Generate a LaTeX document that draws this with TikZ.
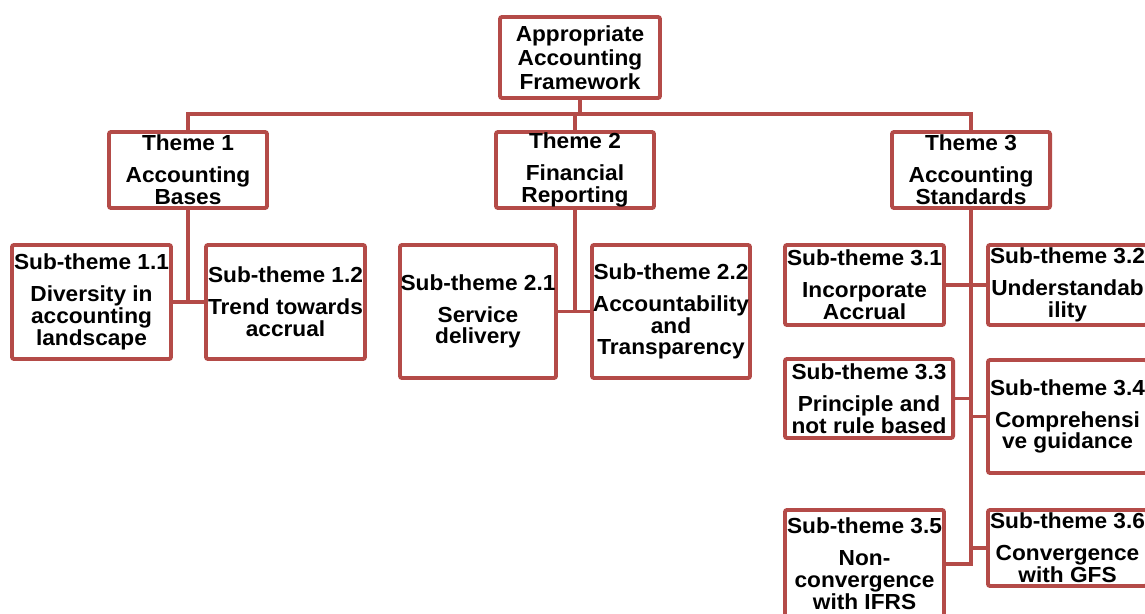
\documentclass[tikz,border=0pt]{standalone}
\usepackage{fontspec}
\setmainfont{Liberation Sans}[FakeStretch=1.04]
\definecolor{boxred}{RGB}{180,75,72}
\tikzset{
  box/.style={draw=boxred, line width=2.8pt, rounded corners=1.5pt, fill=white,
    align=center, inner sep=0pt, font=\bfseries\fontsize{15.5}{15.6}\selectfont},
  rootbox/.style={box, minimum width=4cm, minimum height=2.025cm,
    font=\bfseries\fontsize{15.5}{17}\selectfont},
  themebox/.style={box, minimum width=3.95cm, minimum height=1.9cm},
  subbox/.style={box, minimum width=3.975cm},
  link/.style={draw=boxred, line width=2.8pt, line cap=rect},
}
\begin{document}
\begin{tikzpicture}[x=0.025cm, y=-0.025cm]
  \useasboundingbox (0,0) rectangle (1145,613);
  \clip (0,0) rectangle (1145,613);

  % top
  \node[rootbox] (root) at (580,57.5) {Appropriate\\Accounting\\Framework};
  \coordinate (bus) at (0,114);

  % themes
  \node[themebox] (t1) at (188,170) {Theme 1\\[7pt]Accounting\\Bases};
  \node[themebox] (t2) at (575,170) {Theme 2\\[7pt]Financial\\Reporting};
  \node[themebox] (t3) at (971,170) {Theme 3\\[7pt]Accounting\\Standards};

  % sub-themes 1
  \node[subbox, minimum height=2.85cm] (s11) at (91.5,302) {Sub-theme 1.1\\[7pt]Diversity in\\accounting\\landscape};
  \node[subbox, minimum height=2.85cm] (s12) at (285.5,302) {Sub-theme 1.2\\[7pt]Trend towards\\accrual};

  % sub-themes 2
  \node[subbox, minimum width=3.9cm, minimum height=3.325cm] (s21) at (478,311.5) {Sub-theme 2.1\\[7pt]Service\\delivery};
  \node[subbox, minimum width=3.95cm, minimum height=3.325cm] (s22) at (671,311.5) {Sub-theme 2.2\\[7pt]Accountability\\and\\Transparency};

  % sub-themes 3
  \node[subbox, minimum height=2cm] (s31) at (864.5,285) {Sub-theme 3.1\\[7pt]Incorporate\\Accrual};
  \node[subbox, minimum height=2cm] (s32) at (1067.5,285) {Sub-theme 3.2\\[7pt]Understandab\\ility};
  \node[subbox, minimum width=4.2cm, minimum height=1.975cm] (s33) at (869,398.5) {Sub-theme 3.3\\[7pt]Principle and\\not rule based};
  \node[subbox, minimum height=2.825cm] (s34) at (1067.5,416.5) {Sub-theme 3.4\\[7pt]Comprehensi\\ve guidance};
  \node[subbox, minimum height=2.7cm] (s35) at (864.5,564) {Sub-theme 3.5\\[7pt]Non-\\convergence\\with IFRS};
  \node[subbox, minimum height=1.9cm] (s36) at (1067.5,548) {Sub-theme 3.6\\[7pt]Convergence\\with GFS};

  % connectors
  \draw[link] (root.south) -- (root.south |- bus);
  \draw[link] (t1.north) -- (t1.north |- bus) -- (t3.north |- bus) -- (t3.north);
  \draw[link] (t2.north) -- (t2.north |- bus);

  \draw[link] (t1.south) -- (t1.south |- s11.east);
  \draw[link] (s11.east) -- (s12.west);
  \draw[link] (t2.south) -- (t2.south |- s21.east);
  \draw[link] (s21.east) -- (s22.west);

  \draw[link] (t3.south) -- (t3.south |- s35.east) -- (s35.east);
  \foreach \s in {s31,s33}
    \draw[link] (\s.east) -- (\s.east -| t3.south);
  \foreach \s in {s32,s34,s36}
    \draw[link] (\s.west) -- (\s.west -| t3.south);
\end{tikzpicture}
\end{document}
